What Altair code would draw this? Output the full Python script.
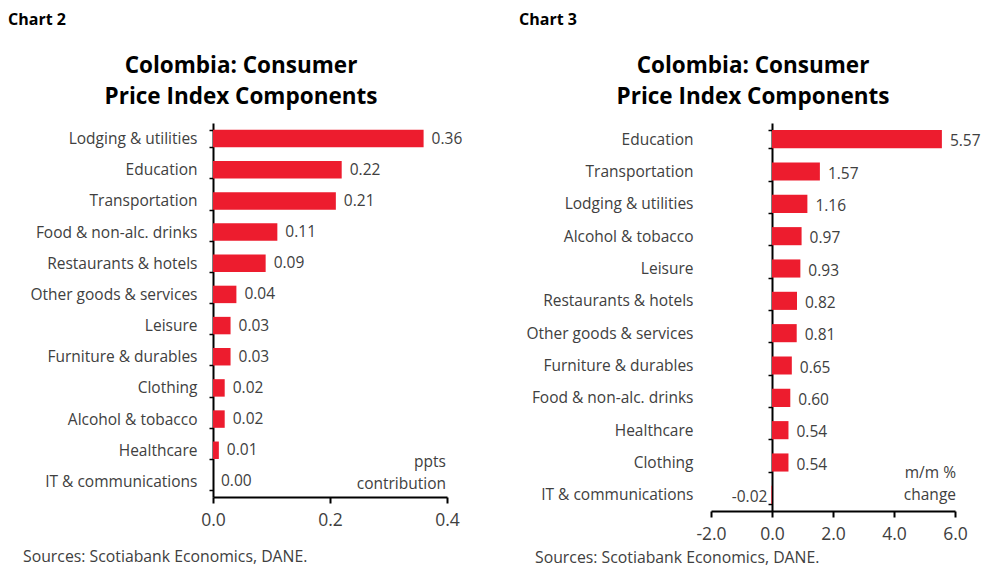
import altair as alt
import pandas as pd

cats2 = ["Lodging & utilities", "Education", "Transportation", "Food & non-alc. drinks",
         "Restaurants & hotels", "Other goods & services", "Leisure", "Furniture & durables",
         "Clothing", "Alcohol & tobacco ", "Healthcare", "IT & communications"]
vals2 = [0.36, 0.22, 0.21, 0.11, 0.09, 0.04, 0.03, 0.03, 0.02, 0.02, 0.01, 0.00]

cats3 = ["Education", "Transportation", "Lodging & utilities", "Alcohol & tobacco ",
         "Leisure", "Restaurants & hotels", "Other goods & services", "Furniture & durables",
         "Food & non-alc. drinks", "Healthcare", "Clothing", "IT & communications"]
vals3 = [5.57, 1.57, 1.16, 0.97, 0.93, 0.82, 0.81, 0.65, 0.60, 0.54, 0.54, -0.02]

ticks2 = [0.0, 0.2, 0.4]
ticks3 = [-2.0, 0.0, 2.0, 4.0, 6.0]

title_lines = ["Colombia: Consumer", "Price Index Components"]
source_text = "Sources: Scotiabank Economics, DANE."

RED = "#ED1C2E"
GREY = "#404040"
FONT = "Open Sans"


def panel(cats, vals, domain, ticks, width, height, axis_offset, label_pad, tick_size,
          chart_label, chart_x, title_x, unit_lines, unit_x, unit_y, src_x, src_y, text_dy):
    df = pd.DataFrame({"category": cats, "value": vals,
                       "label": [f"{v:.2f}" for v in vals]})
    x = alt.X("value:Q",
              scale=alt.Scale(domain=domain, nice=False, zero=False),
              axis=alt.Axis(values=ticks, format=".1f", title=None, grid=False,
                            labelExpr="replace(datum.label, '\u2212', '-')",
                            domainColor="black", domainWidth=2, tickColor="black",
                            tickWidth=2, tickSize=6, labelFontSize=17.5, labelColor=GREY,
                            labelPadding=8, labelFont=FONT, labelFlush=False))
    y = alt.Y("category:N", sort=cats, title=None,
              scale=alt.Scale(paddingInner=0.44, paddingOuter=0.22),
              axis=alt.Axis(tickBand="extent", domainColor="black", domainWidth=2,
                            tickColor="black", tickWidth=1.5, tickSize=tick_size,
                            labelPadding=label_pad, offset=axis_offset, labelFontSize=15.5,
                            labelColor=GREY, labelFont=FONT, grid=False, labelLimit=300))
    bars = alt.Chart(df).mark_bar(color=RED).encode(x=x, y=y)
    ysimple = alt.Y("category:N", sort=cats)
    pos_text = alt.Chart(df).transform_filter("datum.value >= 0").mark_text(
        align="left", baseline="middle", dx=8, dy=text_dy, font=FONT, fontSize=15.5, color=GREY
    ).encode(x="value:Q", y=ysimple, text="label:N")
    layers = [bars, pos_text]
    if any(v < 0 for v in vals):
        neg_text = alt.Chart(df).transform_filter("datum.value < 0").mark_text(
            align="right", baseline="middle", dx=-4, dy=text_dy, font=FONT, fontSize=15.5, color=GREY
        ).encode(x="value:Q", y=ysimple, text="label:N")
        layers.append(neg_text)
    one = pd.DataFrame({"a": [0]})
    lab = alt.Chart(one).mark_text(text=chart_label, align="left", baseline="alphabetic",
                                   font=FONT, fontWeight="bold", fontSize=16, color="black"
                                   ).encode(x=alt.value(chart_x), y=alt.value(-98))
    ttl = alt.Chart(one).mark_text(text=title_lines, align="center", baseline="alphabetic",
                                   lineHeight=31, font=FONT, fontWeight="bold", fontSize=22.5,
                                   color="black").encode(x=alt.value(title_x), y=alt.value(-50))
    unit = alt.Chart(one).mark_text(text=unit_lines, align="right", baseline="alphabetic",
                                    lineHeight=22, font=FONT, fontSize=15.5, color=GREY
                                    ).encode(x=alt.value(unit_x), y=alt.value(unit_y))
    src = alt.Chart(one).mark_text(text=source_text, align="left", baseline="alphabetic",
                                   font=FONT, fontSize=15.8, color=GREY
                                   ).encode(x=alt.value(src_x), y=alt.value(src_y))
    layers += [lab, ttl, unit, src]
    return alt.layer(*layers).properties(width=width, height=height)


left = panel(cats2, vals2, [0, 0.4], ticks2, 234, 374, 0, 12, 4,
             "Chart 2", -205, 28, ["ppts", "contribution"], 233, 344, -190, 439, 0)
right = panel(cats3, vals3, [-2, 6], ticks3, 244, 388, -61, 75, 4,
              "Chart 3", -192, 42, ["m/m %", "change"], 245, 355, -176, 440, 2)

chart = alt.hconcat(left, right, spacing=264, bounds="flush").resolve_scale(
    x="independent", y="independent").configure_view(stroke=None).properties(
    padding={"left": 0, "top": 4, "right": 0, "bottom": 6})

chart.save("out.html", embed_options={"renderer": "svg", "actions": False})
